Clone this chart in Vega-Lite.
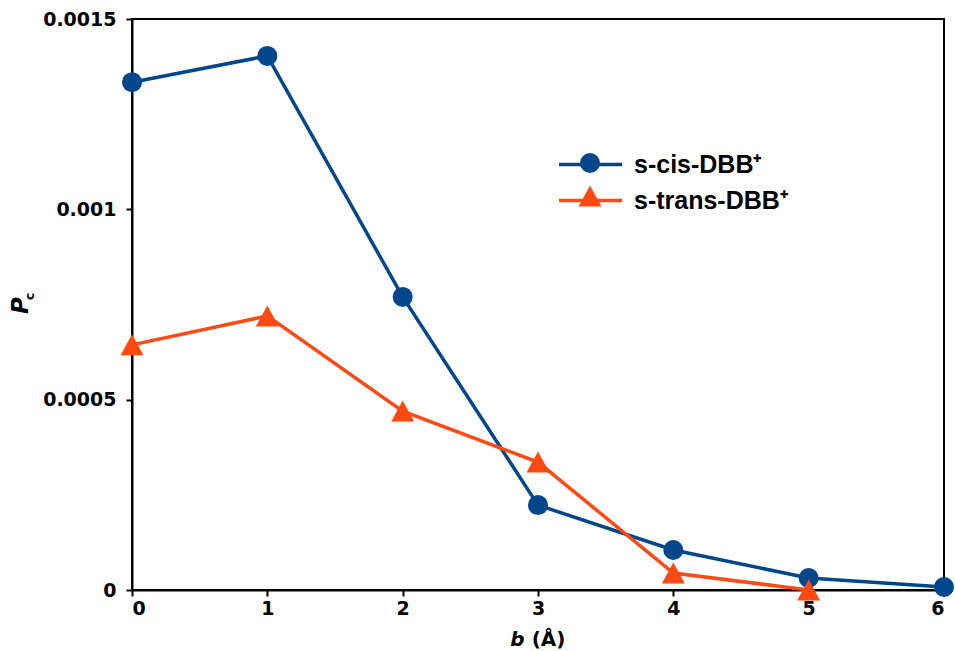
{
  "$schema": "https://vega.github.io/schema/vega-lite/v6.json",
  "autosize": "none",
  "width": 812,
  "height": 571,
  "padding": {"left": 132, "top": 19, "right": 11, "bottom": 61},
  "background": "white",
  "config": {
    "view": {"stroke": "black", "strokeWidth": 2},
    "axis": {"grid": false, "domainColor": "black", "domainWidth": 2, "tickColor": "black", "tickWidth": 2, "tickSize": 6,
      "labelFont": "DejaVu Sans", "labelFontWeight": "bold", "labelFontSize": 19, "labelColor": "black",
      "titleFont": "DejaVu Sans", "titleFontWeight": "bold", "titleColor": "black"}
  },
  "data": {"values": [
    {"b": 0, "p": 0.001334, "series": "s-cis-DBB⁺", "name": "cis"},
    {"b": 1, "p": 0.001403, "series": "s-cis-DBB⁺", "name": "cis"},
    {"b": 2, "p": 0.00077, "series": "s-cis-DBB⁺", "name": "cis"},
    {"b": 3, "p": 0.000223, "series": "s-cis-DBB⁺", "name": "cis"},
    {"b": 4, "p": 0.000105, "series": "s-cis-DBB⁺", "name": "cis"},
    {"b": 5, "p": 0.0000315, "series": "s-cis-DBB⁺", "name": "cis"},
    {"b": 6, "p": 0.000008, "series": "s-cis-DBB⁺", "name": "cis"},
    {"b": 0, "p": 0.000644, "series": "s-trans-DBB⁺", "name": "trans"},
    {"b": 1, "p": 0.00072, "series": "s-trans-DBB⁺", "name": "trans"},
    {"b": 2, "p": 0.00047, "series": "s-trans-DBB⁺", "name": "trans"},
    {"b": 3, "p": 0.000336, "series": "s-trans-DBB⁺", "name": "trans"},
    {"b": 4, "p": 0.0000447, "series": "s-trans-DBB⁺", "name": "trans"},
    {"b": 5, "p": 0.0, "series": "s-trans-DBB⁺", "name": "trans"}
  ]},
  "layer": [
    {
      "mark": {"type": "line", "strokeWidth": 3.5, "clip": false},
      "encoding": {
        "x": {"field": "b", "type": "quantitative", "scale": {"domain": [0, 6], "nice": false},
          "axis": {"values": [0, 1, 2, 3, 4, 5, 6], "labelPadding": 3, "title": "b", "titleFontStyle": "italic", "titleFontSize": 20,
            "titleX": 385, "titleY": 55, "titleAlign": "center", "titleBaseline": "alphabetic"}},
        "y": {"field": "p", "type": "quantitative", "scale": {"domain": [0, 0.0015], "nice": false},
          "axis": {"values": [0, 0.0005, 0.001, 0.0015], "format": "~g", "labelPadding": 10, "title": "P", "titleFontStyle": "italic", "titleFontSize": 23,
            "titleX": -105, "titleY": 286, "titleAngle": -90, "titleAlign": "center", "titleBaseline": "alphabetic"}},
        "stroke": {"field": "series", "type": "nominal",
          "scale": {"domain": ["s-cis-DBB⁺", "s-trans-DBB⁺"], "range": ["#00468B", "#FF4A14"]},
          "legend": {"orient": "none", "legendX": 446, "legendY": 133, "title": null, "symbolType": "M-3,0H3", "symbolSize": 441, "symbolStrokeWidth": 3.5,
            "labelFont": "Liberation Sans", "labelFontWeight": "bold", "labelFontSize": 25, "labelColor": "black", "labelOffset": 31, "rowPadding": 10, "padding": 0}}
      }
    },
    {
      "mark": {"type": "point", "filled": true, "opacity": 1, "clip": false, "size": 400},
      "encoding": {
        "x": {"field": "b", "type": "quantitative",
          "axis": {"orient": "top", "labels": false, "ticks": false, "domain": false, "title": "(Å)", "titleFontSize": 20,
            "titleX": 416, "titleY": 626, "titleAlign": "center", "titleBaseline": "alphabetic"}},
        "y": {"field": "p", "type": "quantitative",
          "axis": {"orient": "right", "labels": false, "ticks": false, "domain": false, "title": "c", "titleFontSize": 13,
            "titleX": -911, "titleY": 277, "titleAngle": -90, "titleAlign": "center", "titleBaseline": "alphabetic"}},
        "fill": {"field": "name", "type": "nominal",
          "scale": {"domain": ["cis", "trans"], "range": ["#00468B", "#FF4A14"]},
          "legend": {"orient": "none", "legendX": 448, "legendY": 134, "title": null, "labelOpacity": 0, "labelFontSize": 11, "symbolSize": 400, "rowPadding": 12, "padding": 0, "symbolOpacity": 1, "symbolStrokeWidth": 0,
            "encode": {"symbols": {"update": {"shape": {"signal": "datum.value === 'cis' ? 'circle' : 'M0,-1.05L1.15,1.05L-1.15,1.05Z'"}}}}}},
        "shape": {"field": "name", "type": "nominal",
          "scale": {"domain": ["cis", "trans"], "range": ["circle", "M0,-1.05L1.15,1.05L-1.15,1.05Z"]}}
      }
    }
  ],
  "resolve": {"axis": {"x": "independent", "y": "independent"}}
}
